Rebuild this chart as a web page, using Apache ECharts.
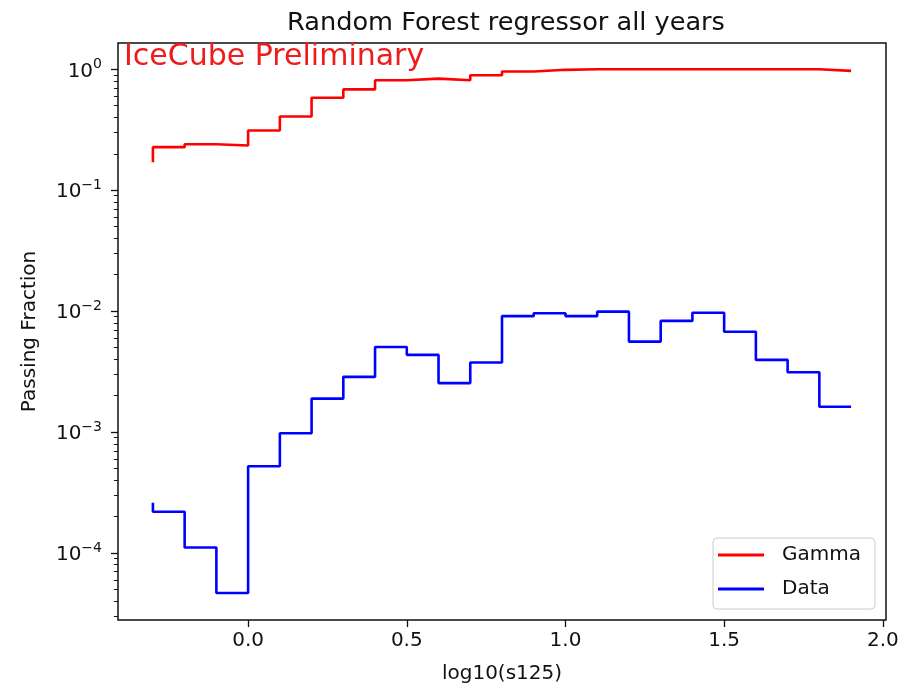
<!DOCTYPE html>
<html><head><meta charset="utf-8">
<script src="https://cdn.jsdelivr.net/npm/echarts@6/dist/echarts.min.js"></script>
<style>html,body{margin:0;padding:0;background:#fff}#c{width:904px;height:685px}</style>
</head><body><div id="c"></div>
<script>
// bin edges (log10(s125)); first value of each series is the step's starting point
const xEdges = [-0.3,-0.2,-0.1,0.0,0.1,0.2,0.3,0.4,0.5,0.6,0.7,0.8,0.9,1.0,1.1,1.2,1.3,1.4,1.5,1.6,1.7,1.8,1.9];
const gammaFrac = [0.17,0.227,0.240,0.234,0.312,0.407,0.582,0.682,0.811,0.837,0.811,0.892,0.96,0.99,1.0,1.0,1.0,1.0,1.0,1.0,1.0,1.0,0.97];
const dataFrac = [2.6e-4,2.19e-4,1.11e-4,4.66e-5,5.22e-4,9.76e-4,1.89e-3,2.86e-3,5.05e-3,4.35e-3,2.54e-3,3.76e-3,9.1e-3,9.6e-3,9.1e-3,9.9e-3,5.6e-3,8.3e-3,9.7e-3,6.75e-3,3.95e-3,3.12e-3,1.62e-3];
const seriesNames = ['Gamma','Data'];
const xTicks = [0.0,0.5,1.0,1.5,2.0];
const yTicks = [1e-4,1e-3,1e-2,1e-1,1];
const yMinorTicks = [3e-5,4e-5,5e-5,6e-5,7e-5,8e-5,9e-5,
  2e-4,3e-4,4e-4,5e-4,6e-4,7e-4,8e-4,9e-4,
  2e-3,3e-3,4e-3,5e-3,6e-3,7e-3,8e-3,9e-3,
  2e-2,3e-2,4e-2,5e-2,6e-2,7e-2,8e-2,9e-2,
  0.2,0.3,0.4,0.5,0.6,0.7,0.8,0.9];
const xRange = [-0.41, 2.01];
const yRange = [2.79e-5, 1.65];
const titleText = 'Random Forest regressor all years';
const watermark = 'IceCube Preliminary';
const xName = 'log10(s125)';
const yName = 'Passing Fraction';

const FF = 'DejaVu Sans';
function expLabel(v){
  const e = Math.round(Math.log10(v));
  const s = String(e).replace('-', '\u2212');
  return '{b|10}{s|' + s + '}';
}
const chart = echarts.init(document.getElementById('c'), null, {renderer:'canvas'});
const pairs = (ys) => xEdges.map((x,i)=>[x, ys[i]]);
chart.setOption({
  animation:false,
  backgroundColor:'#fff',
  title:[
    {text:titleText, left:501, top:5, textAlign:'center',
     textStyle:{fontFamily:FF, fontSize:25.6, fontWeight:'normal', color:'#111'}},
    {text:watermark, left:119, top:37,
     textStyle:{fontFamily:FF, fontSize:30, fontWeight:'normal', color:'#ee1c1c'}}
  ],
  grid:{left:118, right:18, top:43, bottom:65, show:true, borderColor:'#111', borderWidth:1.5,
    backgroundColor:'transparent', containLabel:false, outerBoundsMode:'none'},
  legend:{data:seriesNames, orient:'vertical', left:713, top:538, icon:'rect', itemWidth:46, itemHeight:3,
    itemGap:10, padding:[5,14,8,5], backgroundColor:'rgba(255,255,255,0.8)', borderColor:'#cccccc',
    borderWidth:1, borderRadius:4,
    textStyle:{fontFamily:FF, fontSize:20, color:'#111', lineHeight:24, padding:[0,0,0,13]}},
  xAxis:{type:'value', min:xRange[0], max:xRange[1],
    name:xName, nameLocation:'middle', nameGap:44,
    nameTextStyle:{fontFamily:FF, fontSize:20, color:'#111'},
    axisLine:{show:false, onZero:false},
    axisTick:{show:true, customValues:xTicks, length:7, lineStyle:{color:'#111', width:1.3}},
    axisLabel:{customValues:xTicks, margin:11, fontFamily:FF, fontSize:20, color:'#111',
      formatter:(v)=>Number(v).toFixed(1)},
    splitLine:{show:false}},
  yAxis:[
    {type:'log', logBase:10, min:yRange[0], max:yRange[1],
     name:yName, nameLocation:'middle', nameGap:78,
     nameTextStyle:{fontFamily:FF, fontSize:20, color:'#111'},
     axisLine:{show:false, onZero:false},
     axisTick:{show:true, customValues:yTicks, length:7, lineStyle:{color:'#111', width:1.3}},
     axisLabel:{customValues:yTicks, margin:16, formatter:expLabel,
       rich:{b:{fontFamily:FF, fontSize:20, color:'#111', lineHeight:24, verticalAlign:'bottom'},
             s:{fontFamily:FF, fontSize:14, color:'#111', lineHeight:14, verticalAlign:'top'}}},
     splitLine:{show:false}, minorTick:{show:false}},
    {type:'log', logBase:10, min:yRange[0], max:yRange[1], position:'left',
     axisLine:{show:false, onZero:false},
     axisTick:{show:true, customValues:yMinorTicks, length:4, lineStyle:{color:'#111', width:1}},
     axisLabel:{show:false}, splitLine:{show:false}}
  ],
  series:[
    {name:seriesNames[0], type:'line', step:'start', symbol:'none', data:pairs(gammaFrac),
     color:'#ff0000', lineStyle:{color:'#ff0000', width:2.6}},
    {name:seriesNames[1], type:'line', step:'start', symbol:'none', data:pairs(dataFrac),
     color:'#0000ff', lineStyle:{color:'#0000ff', width:2.6}}
  ]
});
</script></body></html>
